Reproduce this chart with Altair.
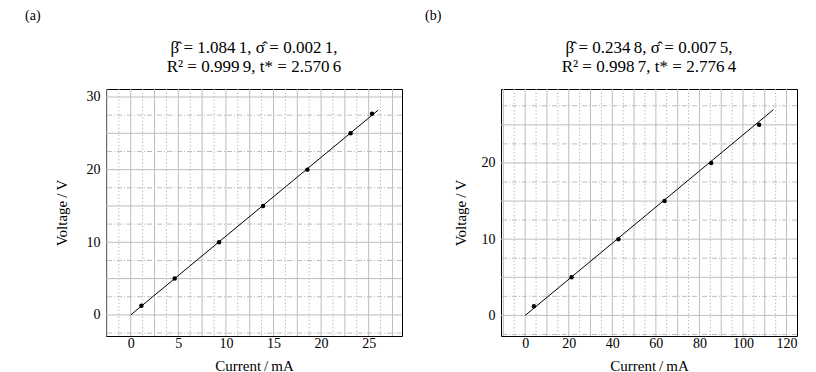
import altair as alt
import pandas as pd

FONT = "Liberation Serif"

# ---- Panel (a) data ----
a_current = [1.12, 4.62, 9.28, 13.9, 18.56, 23.1, 25.35]
a_voltage = [1.25, 5, 10, 15, 20, 25, 27.7]
a_fit_current = [0, 26]
a_fit_voltage = [0, 28.2]
a_title = ["β\u0302 = 1.084\u20091, σ\u0302 = 0.002\u20091,", "R² = 0.999\u20099, t* = 2.570\u20096"]

# ---- Panel (b) data ----
b_current = [4.0, 21.3, 42.8, 64.0, 85.4, 107.4]
b_voltage = [1.2, 5, 10, 15, 20, 25]
b_fit_current = [0, 114]
b_fit_voltage = [0, 27.0]
b_title = ["β\u0302 = 0.234\u20098, σ\u0302 = 0.007\u20095,", "R² = 0.998\u20097, t* = 2.776\u20094"]

# tick labels and grid positions
a_xlabels = [0, 5, 10, 15, 20, 25]
a_ylabels = [0, 10, 20, 30]
a_xgrid_major = [-2.5, 0, 2.5, 5, 7.5, 10, 12.5, 15, 17.5, 20, 22.5, 25, 27.5]
a_xgrid_minor = [-1.25, 1.25, 3.75, 6.25, 8.75, 11.25, 13.75, 16.25, 18.75, 21.25, 23.75, 26.25]
a_ygrid_major = [0, 5, 10, 15, 20, 25, 30]
a_ygrid_minor = [-2.5, 2.5, 7.5, 12.5, 17.5, 22.5, 27.5]

b_xlabels = [0, 20, 40, 60, 80, 100, 120]
b_ylabels = [0, 10, 20]
b_xgrid_major = [-10, 0, 10, 20, 30, 40, 50, 60, 70, 80, 90, 100, 110, 120]
b_xgrid_minor = [-5, 5, 15, 25, 35, 45, 55, 65, 75, 85, 95, 105, 115]
b_ygrid_major = [0, 5, 10, 15, 20, 25]
b_ygrid_minor = [-2.5, 2.5, 7.5, 12.5, 17.5, 22.5, 27.5]

XLAB = "Current\u2009/\u2009mA"
YLAB = "Voltage\u2009/\u2009V"
GRID = "#bdbdbd"
W, H = 296, 247


def panel(cur, volt, fitx, fity, title, tag, tag_dx, xdom, ydom,
          xlabels, ylabels, xgM, xgm, ygM, ygm, ytitle_pad):
    pts = pd.DataFrame({"I": cur, "V": volt})
    fit = pd.DataFrame({"I": fitx, "V": fity})
    xs = alt.Scale(domain=xdom, nice=False, zero=False)
    ys = alt.Scale(domain=ydom, nice=False, zero=False)
    xaxis = alt.Axis(values=xlabels, title=XLAB, ticks=False, labelPadding=0,
                     titlePadding=8, grid=False, domain=False, format="d",
                     labelOverlap=False)
    yaxis = alt.Axis(values=ylabels, title=YLAB, ticks=False, labelPadding=6,
                     titlePadding=ytitle_pad, grid=False, domain=False, format="d",
                     labelOverlap=False)

    def vrule(vals, dash):
        return alt.Chart(pd.DataFrame({"g": vals})).mark_rule(
            color=GRID, strokeWidth=1, strokeDash=dash
        ).encode(x=alt.X("g:Q", scale=xs, axis=xaxis, title=XLAB))

    def hrule(vals, dash):
        return alt.Chart(pd.DataFrame({"g": vals})).mark_rule(
            color=GRID, strokeWidth=1, strokeDash=dash
        ).encode(y=alt.Y("g:Q", scale=ys, axis=yaxis, title=YLAB))

    line = alt.Chart(fit).mark_line(color="black", strokeWidth=1).encode(
        x=alt.X("I:Q", scale=xs, axis=xaxis, title=XLAB),
        y=alt.Y("V:Q", scale=ys, axis=yaxis, title=YLAB))
    dots = alt.Chart(pts).mark_circle(color="black", size=20, opacity=1).encode(
        x=alt.X("I:Q", scale=xs, axis=xaxis, title=XLAB),
        y=alt.Y("V:Q", scale=ys, axis=yaxis, title=YLAB))
    lab = alt.Chart(pd.DataFrame({"t": [tag]})).mark_text(
        align="left", baseline="middle", font=FONT, fontSize=14, color="black"
    ).encode(text="t:N", x=alt.value(tag_dx), y=alt.value(-73))
    l1 = alt.Chart(pd.DataFrame({"t": [title[0]]})).mark_text(
        align="center", baseline="middle", font=FONT, fontSize=17, color="black"
    ).encode(text="t:N", x=alt.value(W / 2), y=alt.value(-41))
    l2 = alt.Chart(pd.DataFrame({"t": [title[1]]})).mark_text(
        align="center", baseline="middle", font=FONT, fontSize=17, color="black"
    ).encode(text="t:N", x=alt.value(W / 2), y=alt.value(-22))
    return alt.layer(
        vrule(xgm, [1.5, 2]), hrule(ygm, [5, 2, 1, 2]),
        vrule(xgM, [1, 0]), hrule(ygM, [1, 0]),
        line, dots, lab, l1, l2,
    ).properties(width=W, height=H)


pa = panel(a_current, a_voltage, a_fit_current, a_fit_voltage, a_title, "(a)", -81,
           [-2.6, 28.5], [-2.9, 31.1], a_xlabels, a_ylabels,
           a_xgrid_major, a_xgrid_minor, a_ygrid_major, a_ygrid_minor, 17)
pb = panel(b_current, b_voltage, b_fit_current, b_fit_voltage, b_title, "(b)", -76,
           [-11.1, 124.8], [-2.7, 29.7], b_xlabels, b_ylabels,
           b_xgrid_major, b_xgrid_minor, b_ygrid_major, b_ygrid_minor, 13)

chart = alt.hconcat(pa, pb, spacing=21).properties(
    padding={"left": 16, "top": 0, "right": 5, "bottom": 0}
).configure_view(stroke="black", strokeWidth=1).configure_axis(
    labelFont=FONT, labelFontSize=14, labelColor="black",
    titleFont=FONT, titleFontSize=15, titleFontWeight="normal", titleColor="black",
)

chart.save("out.html", embed_options={"renderer": "svg", "actions": False})
